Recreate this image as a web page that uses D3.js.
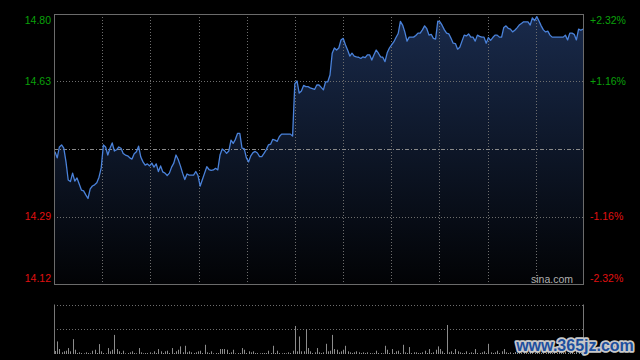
<!DOCTYPE html>
<html><head><meta charset="utf-8">
<script src="https://cdn.jsdelivr.net/npm/d3@7"></script>
<style>html,body{margin:0;padding:0;background:#000;overflow:hidden}</style>
</head><body><svg id="c" width="640" height="360"></svg>
<script>
const prevClose = 14.46;
const pctLimit = 2.32;
const leftTickLabels = ["14.80", "14.63", "14.29", "14.12"];
const rightTickLabels = ["+2.32%", "+1.16%", "-1.16%", "-2.32%"];
const tickPcts = [2.32, 1.16, -1.16, -2.32];
const watermark1 = "sina.com";
const watermark2 = "www.365jz.com";

const prices = [
14.453,14.438,14.465,14.470,14.462,14.428,14.383,14.379,14.400,14.380,
14.388,14.373,14.358,14.356,14.346,14.337,14.361,14.368,14.371,14.376,
14.390,14.413,14.470,14.465,14.445,14.462,14.475,14.455,14.458,14.465,
14.462,14.449,14.445,14.443,14.438,14.435,14.448,14.453,14.467,14.440,
14.428,14.420,14.423,14.418,14.425,14.415,14.423,14.404,14.418,14.403,
14.400,14.394,14.400,14.415,14.425,14.445,14.434,14.418,14.400,14.384,
14.398,14.395,14.395,14.395,14.404,14.394,14.368,14.384,14.400,14.416,
14.409,14.407,14.408,14.412,14.408,14.445,14.460,14.456,14.449,14.455,
14.482,14.474,14.484,14.499,14.499,14.462,14.461,14.438,14.428,14.443,
14.451,14.454,14.450,14.441,14.441,14.449,14.458,14.470,14.472,14.484,
14.482,14.479,14.491,14.497,14.497,14.497,14.497,14.497,14.492,14.622,
14.629,14.599,14.604,14.618,14.615,14.615,14.612,14.610,14.608,14.619,
14.619,14.613,14.607,14.627,14.627,14.644,14.698,14.711,14.706,14.711,
14.731,14.735,14.719,14.706,14.691,14.698,14.691,14.689,14.688,14.685,
14.689,14.687,14.694,14.694,14.681,14.694,14.706,14.698,14.689,14.688,
14.677,14.699,14.711,14.719,14.726,14.737,14.747,14.777,14.768,14.751,
14.728,14.738,14.738,14.738,14.742,14.748,14.748,14.756,14.766,14.759,
14.743,14.745,14.735,14.733,14.778,14.776,14.767,14.756,14.748,14.746,
14.735,14.723,14.722,14.708,14.713,14.728,14.743,14.741,14.746,14.738,
14.738,14.728,14.743,14.740,14.738,14.738,14.723,14.737,14.730,14.737,
14.743,14.743,14.738,14.738,14.762,14.766,14.760,14.758,14.751,14.755,
14.761,14.768,14.772,14.776,14.776,14.776,14.768,14.786,14.779,14.789,
14.778,14.766,14.756,14.751,14.753,14.743,14.738,14.738,14.738,14.738,
14.738,14.738,14.743,14.731,14.748,14.748,14.745,14.731,14.758,14.755,14.758
];

const volumes = [
300,1270,500,170,270,330,600,270,1500,430,
100,170,100,70,170,100,70,330,430,100,
1000,270,100,70,600,270,430,1930,500,270,
100,330,70,100,170,270,100,70,600,170,
70,100,100,170,70,270,100,500,270,100,
270,330,100,600,100,270,430,770,170,830,
170,270,170,100,170,270,330,100,930,170,
100,270,70,100,100,500,500,500,430,100,
170,430,70,100,100,600,430,100,270,170,
270,100,100,70,100,100,100,330,100,830,
100,330,100,70,100,70,170,100,330,2830,
270,1770,270,270,2500,600,270,100,170,600,
170,100,170,1030,270,330,1930,500,430,170,
270,430,830,270,170,100,170,270,170,100,
170,100,170,100,70,100,330,100,100,70,
830,430,100,500,100,270,330,100,930,170,
100,700,100,170,170,100,100,170,330,100,
500,100,170,430,770,500,270,100,2930,170,
270,100,500,270,170,100,100,270,100,170,
100,500,100,100,170,270,100,1030,170,100,
170,330,100,270,500,170,100,170,100,200,
100,300,100,200,100,100,200,400,100,200,
100,100,300,100,200,100,100,200,100,300,
100,100,200,100,100,200,100,300,200,100,400
];
const volumeMax = 5000;

const svg = d3.select("#c");
const L = 54, R = 584, T = 14, B = 284;
const VT = 304.5, VB = 354;

const x = d3.scaleLinear().domain([0, prices.length - 1]).range([55, 583]);
const y = d3.scaleLinear()
  .domain([prevClose * (1 - pctLimit / 100), prevClose * (1 + pctLimit / 100)])
  .range([B, T]);
const yv = d3.scaleLinear().domain([0, volumeMax]).range([VB, VT]);

const defs = svg.append("defs");
const grad = defs.append("linearGradient").attr("id", "g")
  .attr("gradientUnits", "userSpaceOnUse").attr("x1", 0).attr("x2", 0).attr("y1", T).attr("y2", B);
grad.append("stop").attr("offset", "0%").attr("stop-color", "#192a4b");
grad.append("stop").attr("offset", "100%").attr("stop-color", "#020305");

// area fill
svg.append("path").datum(prices)
  .attr("d", d3.area().x((d, i) => x(i)).y0(B).y1(d => y(d)))
  .attr("fill", "url(#g)");

const grid = svg.append("g").attr("stroke", "#6e6e6e").attr("stroke-width", 1).attr("stroke-dasharray", "1,2");
// vertical gridlines
d3.range(1, 11).forEach(k => {
  const gx = Math.round(L + k * (R - L) / 11) + 0.5;
  grid.append("line").attr("x1", gx).attr("x2", gx).attr("y1", T).attr("y2", B);
});
// horizontal gridlines
tickPcts.filter(p => Math.abs(p) < pctLimit).forEach(p => {
  const gy = Math.round(y(prevClose * (1 + p / 100))) + 0.5;
  grid.append("line").attr("x1", L).attr("x2", R).attr("y1", gy).attr("y2", gy);
});
// previous close line
const my = Math.round(y(prevClose)) + 0.5;
svg.append("line").attr("x1", L).attr("x2", R).attr("y1", my).attr("y2", my)
  .attr("stroke", "#8a8a8a").attr("stroke-dasharray", "4,2,1,2");

// price line
svg.append("path").datum(prices)
  .attr("d", d3.line().x((d, i) => x(i)).y(d => y(d)))
  .attr("fill", "none").attr("stroke", "#4a82da").attr("stroke-width", 1.3)
  .attr("stroke-linejoin", "round");

// frame
svg.append("rect").attr("x", L + 0.5).attr("y", T + 0.5).attr("width", R - L - 1).attr("height", B - T)
  .attr("fill", "none").attr("stroke", "#6b6b6b");

// labels
const fnt = "'Liberation Sans', Arial, sans-serif";
tickPcts.forEach((p, i) => {
  let ty = y(prevClose * (1 + p / 100));
  if (i === 0) ty += 6;
  if (i === tickPcts.length - 1) ty -= 6;
  const col = p > 0 ? "#0aa10a" : "#e01010";
  svg.append("text").attr("x", 51).attr("y", ty).attr("dy", "0.36em")
    .attr("text-anchor", "end").attr("fill", col)
    .style("font", "10.5px " + fnt).text(leftTickLabels[i]);
  svg.append("text").attr("x", 590).attr("y", ty).attr("dy", "0.36em")
    .attr("text-anchor", "start").attr("fill", col)
    .style("font", "10.5px " + fnt).text(rightTickLabels[i]);
});

svg.append("text").attr("x", 573).attr("y", 279).attr("dy", "0.36em").attr("text-anchor", "end")
  .attr("fill", "#b0b0b0").style("font", "10.5px " + fnt).text(watermark1);

// volume panel
const vg = svg.append("g").attr("stroke", "#6e6e6e").attr("stroke-dasharray", "1,2");
[volumeMax, volumeMax / 2].forEach(v => {
  const gy = Math.round(yv(v)) + 0.5;
  vg.append("line").attr("x1", L).attr("x2", R).attr("y1", gy).attr("y2", gy);
});
svg.append("line").attr("x1", L + 0.5).attr("x2", L + 0.5).attr("y1", VT).attr("y2", VB).attr("stroke", "#777");
svg.append("line").attr("x1", R - 0.5).attr("x2", R - 0.5).attr("y1", VT).attr("y2", VB).attr("stroke", "#777");

svg.append("g").selectAll("line").data(volumes).join("line")
  .attr("x1", (d, i) => Math.round(x(i)) + 0.5).attr("x2", (d, i) => Math.round(x(i)) + 0.5)
  .attr("y1", yv(0)).attr("y2", d => yv(d))
  .attr("stroke", "#8c8c8c").attr("stroke-width", 1);

// site watermark
svg.append("text").attr("x", 575).attr("y", 345).attr("dy", "0.36em").attr("text-anchor", "middle")
  .attr("fill", "#1d4f9e").attr("stroke", "#c8c8c8").attr("stroke-width", 3.5)
  .attr("stroke-linejoin", "round").attr("paint-order", "stroke")
  .style("font", "bold 16px " + fnt).text(watermark2);
</script>
</body></html>
